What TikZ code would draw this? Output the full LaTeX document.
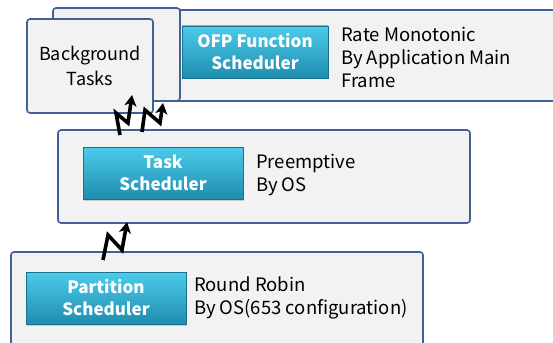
\documentclass[tikz,border=0pt]{standalone}
\usepackage{fontspec}
\setmainfont{Noto Sans CJK KR}
\usetikzlibrary{arrows.meta,shadows}
\definecolor{panelfill}{HTML}{F2F2F2}
\definecolor{paneldraw}{HTML}{3F6196}
\definecolor{schedtop}{HTML}{4CCBEA}
\definecolor{schedbot}{HTML}{1F8DAE}
\tikzset{
  panel/.style={draw=paneldraw,fill=panelfill,line width=1.6pt,rounded corners=3pt,inner sep=0pt},
  sched/.style={top color=schedtop,bottom color=schedbot,draw=schedbot!80!black,line width=0.4pt,
    drop shadow={shadow xshift=1pt,shadow yshift=-1.5pt,opacity=0.35},
    text=white,font=\fontsize{17}{22}\selectfont\bfseries,align=center,inner sep=0pt},
  note/.style={anchor=west,align=left,font=\fontsize{18.5}{23}\selectfont,inner sep=0pt},
  bolt/.style={draw=black,line width=3.6pt,line join=miter,-{Stealth[length=11pt,width=12pt,inset=3pt]}}
}
\begin{document}
\begin{tikzpicture}[x=1pt,y=-1pt]
\useasboundingbox (0,0) rectangle (553,342);
						\begin{scope}[every node/.style={panel}]
							\node[minimum width=390pt,minimum height=91pt] (ofppanel) at (370,55.5) {};
							\node[minimum width=127pt,minimum height=93pt] (backpanel) at (116.5,54.5) {};
							\node[minimum width=126pt,minimum height=94pt,align=center,font=\fontsize{18}{25}\selectfont] (bgtasks) at (90,66) {Background\\Tasks};
							\node[minimum width=412pt,minimum height=93pt] (taskpanel) at (264,176.5) {};
							\node[minimum width=412pt,minimum height=100pt] (partpanel) at (217,302) {};
						\end{scope}
						
						\begin{scope}[every node/.style={sched}]
							\node[minimum width=146pt,minimum height=52pt] (ofp) at (255,52) {OFP Function\\Scheduler};
							\node[minimum width=160pt,minimum height=52pt] (task) at (163,173) {Task\\Scheduler};
							\node[minimum width=160pt,minimum height=52pt] (part) at (106,298) {Partition\\Scheduler};
						\end{scope}
						
						\node[note] (ofpnote) at (341,57) {Rate Monotonic\\By Application Main\\Frame};
						\node[note] (tasknote) at (256,174.5) {Preemptive\\By OS};
						\node[note] (partnote) at (194,297.5) {Round Robin\\By OS(653 configuration)};
						
						% ends of the bolts
						\coordinate (boltA) at (120,135);
						\coordinate (tipA) at (132,95);
						\coordinate (boltB) at (142,132);
						\coordinate (tipB) at (163,103);
						\coordinate (boltC) at (103,260);
						\coordinate (tipC) at (127,222);
						
						\draw[bolt] (boltA) -- ++(-4,-22) -- ++(12,10) -- (tipA);
						\draw[bolt] (boltB) -- ++(3,-22) -- ++(15,13) -- (tipB);
						\draw[bolt] (boltC) -- ++(5,-25) -- ++(14,15) -- (tipC);
\end{tikzpicture}
\end{document}
